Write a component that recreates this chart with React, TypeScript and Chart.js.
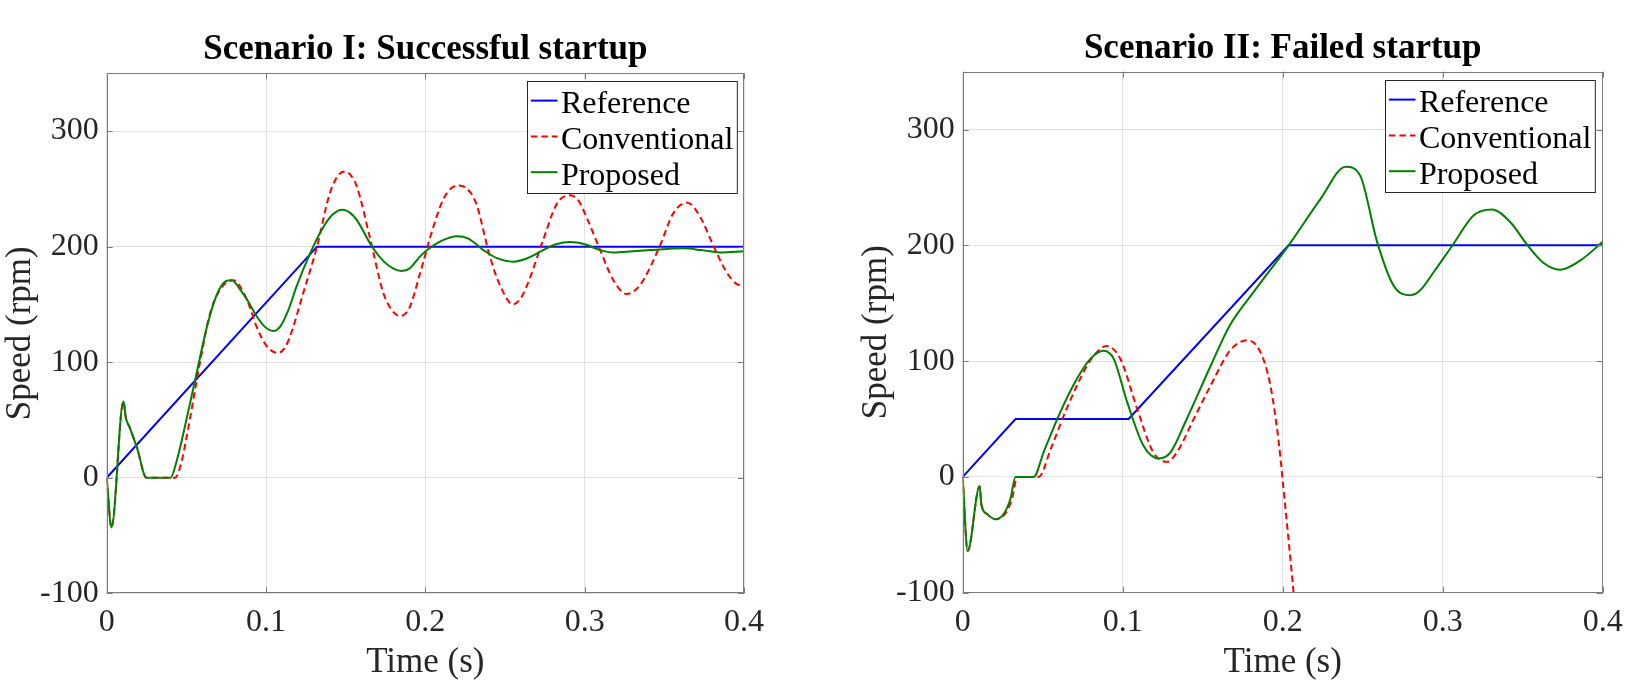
import { useEffect, useRef } from 'react'
import { Chart, registerables } from 'chart.js'

// Two MATLAB-style speed plots side by side: reference ramp vs. the
// conventional and proposed controllers during motor startup.

Chart.register(...registerables)

const X_TICKS = [0, 0.1, 0.2, 0.3, 0.4]
const Y_TICKS = [-100, 0, 100, 200, 300]
const SERIES_LABELS = ['Reference', 'Conventional', 'Proposed']

// Scenario I — successful startup
const S1_REF_T = [0, 0.132, 0.4]
const S1_REF_V = [0, 200, 200]

const S1_CONV_T = [0, 0.003, 0.0105, 0.012, 0.0146, 0.019, 0.025, 0.043, 0.047, 0.05, 0.0586, 0.065, 0.073, 0.0795, 0.086, 0.09, 0.094, 0.1004, 0.1077, 0.112, 0.115, 0.1234, 0.132, 0.14, 0.1455, 0.1496, 0.153, 0.157, 0.165, 0.1736, 0.179, 0.184, 0.19, 0.1967, 0.205, 0.212, 0.2207, 0.227, 0.232, 0.2406, 0.247, 0.255, 0.2597, 0.2637, 0.274, 0.2825, 0.291, 0.296, 0.301, 0.3097, 0.318, 0.3264, 0.3315, 0.3368, 0.347, 0.3557, 0.3645, 0.3724, 0.381, 0.389, 0.395, 0.4]
const S1_CONV_V = [0, -43, 66, 52, 43, 26, 0, 0, 14, 34, 100, 143, 166, 171, 160, 147, 131, 114, 108, 113, 122, 160, 200, 246, 262, 265, 262, 252, 209, 160, 145, 140, 147, 177, 217, 243, 253, 249, 237, 191, 166, 150, 155, 166, 206, 237, 244.5, 240, 226, 197, 171, 159, 162, 171, 200, 229, 238, 226, 200, 178, 168, 166]

const S1_PROP_T = [0, 0.003, 0.0105, 0.012, 0.0146, 0.019, 0.025, 0.04, 0.044, 0.05, 0.0565, 0.063, 0.069, 0.0745, 0.0785, 0.0837, 0.089, 0.094, 0.099, 0.1046, 0.109, 0.114, 0.119, 0.1276, 0.136, 0.142, 0.148, 0.153, 0.157, 0.167, 0.174, 0.18, 0.185, 0.19, 0.197, 0.203, 0.21, 0.2197, 0.227, 0.2364, 0.245, 0.255, 0.264, 0.274, 0.282, 0.291, 0.3, 0.3097, 0.318, 0.33, 0.341, 0.352, 0.362, 0.373, 0.385, 0.4]
const S1_PROP_V = [0, -43, 66, 52, 43, 26, 0, 0, 15, 50, 91, 131, 158, 170, 171, 163, 152, 140, 131, 127, 131, 145, 165, 194, 217, 228, 232, 229, 223, 199, 187, 181, 179, 181, 192, 199, 205, 209, 207, 197, 190, 187, 190, 197, 202, 204, 202, 197, 195, 196, 197, 198, 198.5, 197, 195, 196]

// Scenario II — failed startup (conventional runs away below -100)
const S2_REF_T = [0, 0.033, 0.1037, 0.2037, 0.4]
const S2_REF_V = [0, 50, 50, 200, 200]

const S2_CONV_T = [0, 0.0031, 0.0106, 0.0117, 0.0152, 0.0204, 0.027, 0.031, 0.034, 0.0475, 0.055, 0.065, 0.0777, 0.084, 0.09, 0.0985, 0.109, 0.119, 0.1277, 0.134, 0.1444, 0.155, 0.167, 0.1777, 0.186, 0.1923, 0.1975, 0.2017, 0.206, 0.21]
const S2_CONV_V = [0, -64, -8, -24, -32, -36.5, -31, -18, 0, 0, 24, 59, 96, 108, 113, 102, 59, 21.5, 13, 21.5, 50, 79, 109, 118, 108, 79, 30, -27, -88, -150]

const S2_PROP_T = [0, 0.0031, 0.0106, 0.0117, 0.0152, 0.0204, 0.0256, 0.0298, 0.033, 0.0444, 0.0506, 0.061, 0.0715, 0.0798, 0.088, 0.0944, 0.1027, 0.113, 0.1225, 0.13, 0.14, 0.155, 0.167, 0.182, 0.2037, 0.2236, 0.2394, 0.2485, 0.259, 0.2694, 0.28, 0.2858, 0.2944, 0.3066, 0.3194, 0.3306, 0.3423, 0.3525, 0.3629, 0.3733, 0.386, 0.4]
const S2_PROP_V = [0, -64, -8, -24, -32, -36.5, -32, -19, 0, 0, 21.5, 56, 85, 102, 109, 102, 65, 27, 16, 21.5, 50, 96, 131, 160, 200, 240, 268, 260, 203, 165, 157, 161, 177, 201, 226, 231, 220, 201, 185, 179, 187, 203]

const FONT = "'Liberation Serif', 'Times New Roman', serif"
const TEXT = '#262626'
const AXIS = '#7a7a7a'
const GRID = '#e2e2e2'
const TICK_LEN = 6

const pts = (t: number[], v: number[]) => t.map((x, i) => ({ x, y: v[i] }))

// axes box, inward ticks on all four sides, and the boxed legend in the top-right
const matlabFrame = {
  id: 'matlabFrame',
  afterDatasetsDraw(chart: any) {
    const { ctx, chartArea: a, scales } = chart
    ctx.save()
    ctx.strokeStyle = AXIS
    ctx.lineWidth = 1
    ctx.beginPath()
    X_TICKS.forEach(v => {
      const px = Math.round(scales.x.getPixelForValue(v)) + 0.5
      ctx.moveTo(px, a.bottom); ctx.lineTo(px, a.bottom - TICK_LEN)
      ctx.moveTo(px, a.top); ctx.lineTo(px, a.top + TICK_LEN)
    })
    Y_TICKS.forEach(v => {
      const py = Math.round(scales.y.getPixelForValue(v)) + 0.5
      ctx.moveTo(a.left, py); ctx.lineTo(a.left + TICK_LEN, py)
      ctx.moveTo(a.right, py); ctx.lineTo(a.right - TICK_LEN, py)
    })
    ctx.stroke()
    ctx.strokeRect(Math.round(a.left) + 0.5, Math.round(a.top) + 0.5, Math.round(a.width) - 1, Math.round(a.height) - 1)

    // legend
    ctx.font = `32px ${FONT}`
    const ds = chart.data.datasets
    const textW = Math.max(...ds.map((d: any) => ctx.measureText(d.label).width))
    const boxW = 3.4 + 26.6 + 3.4 + textW + 4
    const boxH = 112
    const bx = Math.round(a.right - 7.5 - boxW) + 0.5
    const by = Math.round(a.top + 8) + 0.5
    ctx.fillStyle = '#ffffff'
    ctx.fillRect(bx, by, boxW, boxH)
    ctx.strokeStyle = '#262626'
    ctx.strokeRect(bx, by, boxW, boxH)
    ds.forEach((d: any, i: number) => {
      const base = by + 31.6 + i * 35.8
      ctx.strokeStyle = d.borderColor
      ctx.lineWidth = 2
      ctx.setLineDash(d.borderDash || [])
      ctx.beginPath()
      ctx.moveTo(bx + 3.4, base - 12.5)
      ctx.lineTo(bx + 30, base - 12.5)
      ctx.stroke()
      ctx.setLineDash([])
      ctx.fillStyle = '#000000'
      ctx.textBaseline = 'alphabetic'
      ctx.textAlign = 'left'
      ctx.fillText(d.label, bx + 33.4, base)
    })
    ctx.restore()
  },
}

interface Series { t: number[]; v: number[] }

function SpeedChart({
  title,
  reference,
  conventional,
  proposed,
  padRight,
  titleTop,
  xAxisHeight,
}: {
  title: string
  reference: Series
  conventional: Series
  proposed: Series
  padRight: number
  titleTop: number
  xAxisHeight: number
}) {
  const canvasRef = useRef<HTMLCanvasElement>(null)

  useEffect(() => {
    if (!canvasRef.current) return
    const chart = new Chart(canvasRef.current, {
      type: 'line',
      data: {
        datasets: [
          {
            label: SERIES_LABELS[0],
            data: pts(reference.t, reference.v),
            borderColor: '#0000ff',
            borderWidth: 2,
            tension: 0,
            order: 3,
          },
          {
            label: SERIES_LABELS[1],
            data: pts(conventional.t, conventional.v),
            borderColor: '#ff0000',
            borderWidth: 2,
            borderDash: [6.5, 4],
            cubicInterpolationMode: 'monotone',
            order: 2,
          },
          {
            label: SERIES_LABELS[2],
            data: pts(proposed.t, proposed.v),
            borderColor: '#008000',
            borderWidth: 2,
            cubicInterpolationMode: 'monotone',
            order: 1,
          },
        ],
      },
      options: {
        responsive: true,
        maintainAspectRatio: false,
        animation: false,
        elements: { point: { radius: 0, hoverRadius: 0 } },
        layout: { padding: { left: 0, right: padRight, top: 0, bottom: 0 } },
        plugins: {
          legend: { display: false },
          tooltip: { enabled: false },
          title: {
            display: true,
            text: title,
            fullSize: false,
            color: '#000000',
            font: { family: FONT, size: 35, weight: 'bold', lineHeight: 1.2 },
            padding: { top: titleTop, bottom: 2 },
          },
        },
        scales: {
          x: {
            type: 'linear',
            min: 0,
            max: 0.4,
            afterBuildTicks: (s: any) => { s.ticks = X_TICKS.map(value => ({ value })) },
            afterFit: (s: any) => { s.height = xAxisHeight },
            ticks: {
              color: TEXT,
              padding: 10.5,
              maxRotation: 0,
              font: { family: FONT, size: 32 },
              callback: (v: any) => String(v),
            },
            grid: { color: GRID, drawTicks: false },
            border: { display: false },
            title: {
              display: true,
              text: 'Time (s)',
              color: TEXT,
              padding: 0,
              font: { family: FONT, size: 35, lineHeight: 1.1 },
            },
          },
          y: {
            type: 'linear',
            min: -100,
            max: 350,
            afterBuildTicks: (s: any) => { s.ticks = Y_TICKS.map(value => ({ value })) },
            afterFit: (s: any) => { s.width = 106.7 },
            ticks: {
              color: TEXT,
              padding: 8,
              font: { family: FONT, size: 32 },
              callback: (v: any) => String(v),
            },
            grid: { color: GRID, drawTicks: false },
            border: { display: false },
            title: {
              display: true,
              text: 'Speed (rpm)',
              color: TEXT,
              padding: 0,
              font: { family: FONT, size: 35, lineHeight: 1.2 },
            },
          },
        },
      },
      plugins: [matlabFrame],
    } as any)

    return () => { chart.destroy() }
  }, [title, reference, conventional, proposed, padRight, titleTop, xAxisHeight])

  return <canvas ref={canvasRef} />
}

export default function App() {
  return (
    <div style={{ position: 'absolute', left: 0, top: 0, width: 1635, height: 682, background: '#ffffff' }}>
      <div style={{ position: 'absolute', left: 0, top: 0, width: 810, height: 682 }}>
        <SpeedChart
          title="Scenario I: Successful startup"
          reference={{ t: S1_REF_T, v: S1_REF_V }}
          conventional={{ t: S1_CONV_T, v: S1_CONV_V }}
          proposed={{ t: S1_PROP_T, v: S1_PROP_V }}
          padRight={66}
          titleTop={29.3}
          xAxisHeight={88.7}
        />
      </div>
      <div style={{ position: 'absolute', left: 856, top: 0, width: 779, height: 682 }}>
        <SpeedChart
          title="Scenario II: Failed startup"
          reference={{ t: S2_REF_T, v: S2_REF_V }}
          conventional={{ t: S2_CONV_T, v: S2_CONV_V }}
          proposed={{ t: S2_PROP_T, v: S2_PROP_V }}
          padRight={32.3}
          titleTop={27.7}
          xAxisHeight={89.3}
        />
      </div>
    </div>
  )
}
